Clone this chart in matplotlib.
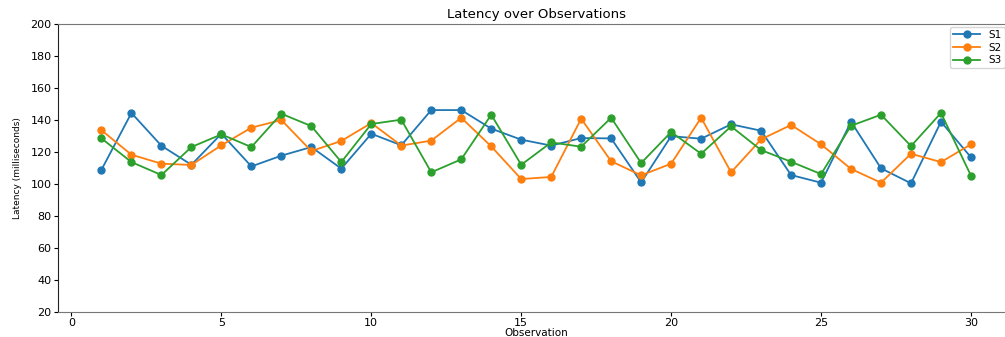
import matplotlib
matplotlib.use('Agg')
import matplotlib.pyplot as plt
import numpy as np

# Observation numbers and latency per series
observations = list(range(1, 31))
s1 = [108.9, 144.4, 123.9, 112.0, 131.4, 111.0, 117.7, 123.1, 109.6, 131.4,
      124.2, 146.2, 146.2, 134.6, 127.7, 124.0, 128.7, 128.5, 101.0, 129.9,
      128.3, 137.3, 133.3, 105.6, 100.8, 138.9, 109.8, 100.4, 138.9, 116.7]
s2 = [133.6, 118.3, 112.7, 111.9, 124.2, 135.2, 140.0, 120.6, 126.9, 138.1,
      124.0, 127.1, 141.4, 123.5, 103.1, 104.4, 140.8, 114.2, 105.4, 112.7,
      141.4, 107.3, 127.9, 136.9, 124.8, 109.4, 100.8, 118.9, 113.7, 124.8]
s3 = [128.5, 113.7, 105.6, 123.1, 131.0, 123.1, 143.9, 136.2, 113.7, 137.5,
      140.2, 107.3, 115.4, 143.3, 112.0, 126.0, 123.3, 141.4, 113.1, 132.5,
      118.9, 136.0, 121.2, 113.9, 106.2, 136.4, 143.3, 123.7, 144.4, 105.2]
series_names = ['S1', 'S2', 'S3']
y_ticks = list(range(20, 201, 20))

fig = plt.figure(figsize=(10.05, 3.37), dpi=100)
# axes run past the right edge, as in the (cropped) reference
ax = fig.add_axes([0.0577, 0.0742, 0.9517, 0.8546])

for name, values in zip(series_names, [s1, s2, s3]):
    ax.plot(observations, values, marker='o', markersize=5, linewidth=1.3, label=name)

ax.set_ylim(20, 200)
ax.set_yticks(y_ticks)
ax.tick_params(axis='both', labelsize=8, length=3, pad=1.5)
ax.set_title('Latency over Observations', fontsize=9.5, pad=4)
ax.set_xlabel('Observation', fontsize=7.5, labelpad=0)
ax.set_ylabel('Latency (milliseconds)', fontsize=6.5, labelpad=6)

for side in ['top', 'right', 'bottom']:
    ax.spines[side].set_color('#777777')
ax.spines['left'].set_color('#222222')

# keep the legend labels just inside the right edge of the picture
ax.legend(loc='upper right', bbox_to_anchor=(1.0, 0.92), bbox_transform=fig.transFigure,
          borderaxespad=0, fontsize=7.5, handlelength=2.6, labelspacing=0.25, borderpad=0.3)

fig.savefig('out.png', dpi=100)
